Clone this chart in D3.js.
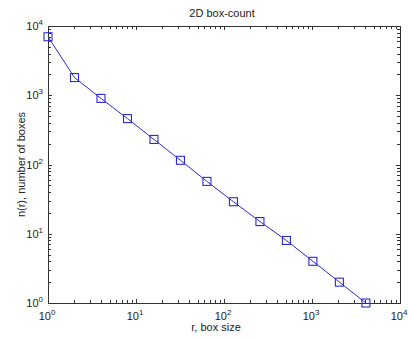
<!DOCTYPE html>
<html>
<head>
<meta charset="utf-8">
<script src="https://cdn.jsdelivr.net/npm/d3@7.9.0/dist/d3.min.js"></script>
<style>
  body { margin: 0; background: #fff; }
  svg { display: block; font-family: Arial, "Liberation Sans", sans-serif; }
</style>
</head>
<body>
<div id="chart"></div>
<script>
// ---------- Data ----------
const boxSizes = [1, 2, 4, 8, 16, 32, 64, 128, 256, 512, 1024, 2048, 4096];
const boxCounts = [7000, 1800, 900, 460, 230, 115, 57, 29, 15, 8, 4, 2, 1];
const xDecades = [0, 1, 2, 3, 4];
const yDecades = [0, 1, 2, 3, 4];

const width = 408;
const height = 338;
const margin = { top: 26, right: 8, bottom: 35, left: 48 };

const svg = d3.select("#chart")
  .append("svg")
  .attr("width", width)
  .attr("height", height);

const x = d3.scaleLog().domain([1, 1e4]).range([margin.left, width - margin.right]);
const y = d3.scaleLog().domain([1, 1e4]).range([height - margin.bottom, margin.top]);

const axisColor = "#333";
const lineColor = "#2b2bd6";

// minor tick values inside each decade
function logTicks(decades) {
  const out = [];
  for (let i = 0; i < decades.length - 1; i++) {
    for (let k = 1; k < 10; k++) out.push(k * Math.pow(10, decades[i]));
  }
  out.push(Math.pow(10, decades[decades.length - 1]));
  return out;
}

const plotL = margin.left, plotR = width - margin.right;
const plotT = margin.top, plotB = height - margin.bottom;

// frame
svg.append("rect")
  .attr("x", plotL + 0.5).attr("y", plotT + 0.5)
  .attr("width", plotR - plotL).attr("height", plotB - plotT)
  .attr("fill", "none").attr("stroke", axisColor).attr("stroke-width", 1);

const ticks = svg.append("g").attr("stroke", axisColor).attr("stroke-width", 1);

logTicks(xDecades).forEach((v) => {
  const major = Number.isInteger(Math.log10(v));
  const len = major ? 4 : 3;
  const px = Math.round(x(v)) + 0.5;
  ticks.append("line").attr("x1", px).attr("x2", px).attr("y1", plotB).attr("y2", plotB - len);
  ticks.append("line").attr("x1", px).attr("x2", px).attr("y1", plotT).attr("y2", plotT + len);
});

logTicks(yDecades).forEach((v) => {
  const major = Number.isInteger(Math.log10(v));
  const len = major ? 4 : 3;
  const py = Math.round(y(v)) + 0.5;
  ticks.append("line").attr("x1", plotL).attr("x2", plotL + len).attr("y1", py).attr("y2", py);
  ticks.append("line").attr("x1", plotR).attr("x2", plotR - len).attr("y1", py).attr("y2", py);
});

// tick labels with superscripts
const labels = svg.append("g").attr("fill", "#222").attr("font-size", 11);

xDecades.forEach((d) => {
  const t = labels.append("text")
    .attr("x", x(Math.pow(10, d)) - 1)
    .attr("y", plotB + 17)
    .attr("text-anchor", "middle");
  t.append("tspan").text("10");
  t.append("tspan").attr("font-size", 8).attr("dy", -5).text(d);
});

yDecades.forEach((d) => {
  const t = labels.append("text")
    .attr("x", plotL - 5)
    .attr("y", y(Math.pow(10, d)) + 4)
    .attr("text-anchor", "end");
  t.append("tspan").text("10");
  t.append("tspan").attr("font-size", 8).attr("dy", -5).text(d);
});

// titles
svg.append("text")
  .attr("x", 222).attr("y", 17)
  .attr("text-anchor", "middle").attr("font-size", 11).attr("fill", "#222")
  .text("2D box-count");

svg.append("text")
  .attr("x", 216).attr("y", height - 7)
  .attr("text-anchor", "middle").attr("font-size", 11).attr("fill", "#222")
  .text("r, box size");

svg.append("text")
  .attr("transform", `translate(25, ${(plotT + plotB) / 2}) rotate(-90)`)
  .attr("text-anchor", "middle").attr("font-size", 11).attr("fill", "#222")
  .text("n(r), number of boxes");

// series
const points = boxSizes.map((r, i) => ({ r, n: boxCounts[i] }));

svg.append("path")
  .datum(points)
  .attr("fill", "none")
  .attr("stroke", lineColor)
  .attr("stroke-width", 1)
  .attr("d", d3.line().x((d) => x(d.r)).y((d) => y(d.n)));

svg.append("g")
  .selectAll("rect")
  .data(points)
  .join("rect")
  .attr("x", (d) => x(d.r) - 4)
  .attr("y", (d) => y(d.n) - 4)
  .attr("width", 8)
  .attr("height", 8)
  .attr("fill", "none")
  .attr("stroke", lineColor)
  .attr("stroke-width", 1.1);
</script>
</body>
</html>
